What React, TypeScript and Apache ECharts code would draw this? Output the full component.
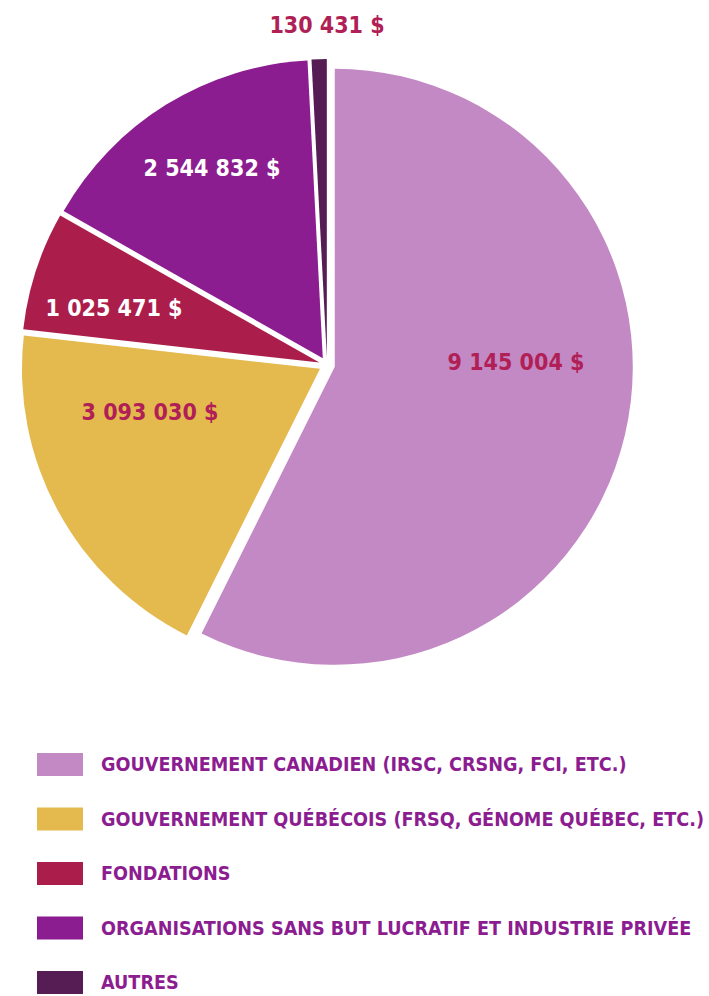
import React, { useEffect, useRef } from "react";
import * as echarts from "echarts";

const categories = [
  "GOUVERNEMENT CANADIEN (IRSC, CRSNG, FCI, ETC.)",
  "GOUVERNEMENT QUÉBÉCOIS (FRSQ, GÉNOME QUÉBEC, ETC.)",
  "FONDATIONS",
  "ORGANISATIONS SANS BUT LUCRATIF ET INDUSTRIE PRIVÉE",
  "AUTRES",
];
const values = [9145004, 3093030, 1025471, 2544832, 130431];
const valueLabels = ["9 145 004 $", "3 093 030 $", "1 025 471 $", "2 544 832 $", "130 431 $"];
const colors = ["#c389c4", "#e4b94e", "#ab1e4c", "#8c1d91", "#561d55"];
const labelColors = ["#b01f55", "#b01f55", "#ffffff", "#ffffff", "#b01f55"];
// label anchor points (layout only)
const labelAnchors = [
  [516, 362],
  [150, 412],
  [114, 308],
  [212, 168],
  [327, 25],
];

const FONT = '"DejaVu Sans Condensed", sans-serif';

export default function App() {
  const ref = useRef<HTMLDivElement>(null);
  useEffect(() => {
    if (!ref.current) return;
    const chart = echarts.init(ref.current, undefined, { renderer: "svg" });
    const common = {
      type: "pie",
      center: [327, 365],
      radius: [0, 298],
      startAngle: 90,
      clockwise: true,
      avoidLabelOverlap: false,
      emphasis: { disabled: true },
    };
    chart.setOption({
      animation: false,
      backgroundColor: "#ffffff",
      legend: {
        orient: "vertical",
        left: 37,
        top: 753,
        height: 260,
        padding: 0,
        icon: "rect",
        itemWidth: 46,
        itemHeight: 23,
        itemGap: 31.5,
        selectedMode: false,
        data: categories,
        textStyle: {
          fontFamily: FONT,
          fontSize: 19.6,
          fontWeight: "bold",
          color: "#8c1d91",
          lineHeight: 23,
          padding: [0, 0, 0, 13],
        },
      },
      series: [
        {
          ...common,
          name: "slices",
          selectedMode: "multiple",
          selectedOffset: 8,
          label: { show: false },
          labelLine: { show: false },
          data: categories.map((name, i) => ({
            name,
            value: values[i],
            selected: true,
            itemStyle: { color: colors[i] },
          })),
        },
        {
          ...common,
          name: "labels",
          silent: true,
          legendHoverLink: false,
          itemStyle: { color: "rgba(0,0,0,0)", borderWidth: 0 },
          label: {
            show: true,
            position: "inside",
            fontFamily: FONT,
            fontSize: 23,
            fontWeight: "bold",
            formatter: (p: any) => valueLabels[p.dataIndex],
          },
          labelLine: { show: false },
          labelLayout: (p: any) => ({
            x: labelAnchors[p.dataIndex][0],
            y: labelAnchors[p.dataIndex][1],
            align: "center",
            verticalAlign: "middle",
          }),
          data: categories.map((name, i) => ({
            name,
            value: values[i],
            itemStyle: { color: "rgba(0,0,0,0)" },
            label: { color: labelColors[i] },
          })),
        },
      ],
    });
    return () => chart.dispose();
  }, []);
  return (
    <div
      ref={ref}
      style={{ position: "absolute", left: 0, top: 0, width: 709, height: 996 }}
    />
  );
}
